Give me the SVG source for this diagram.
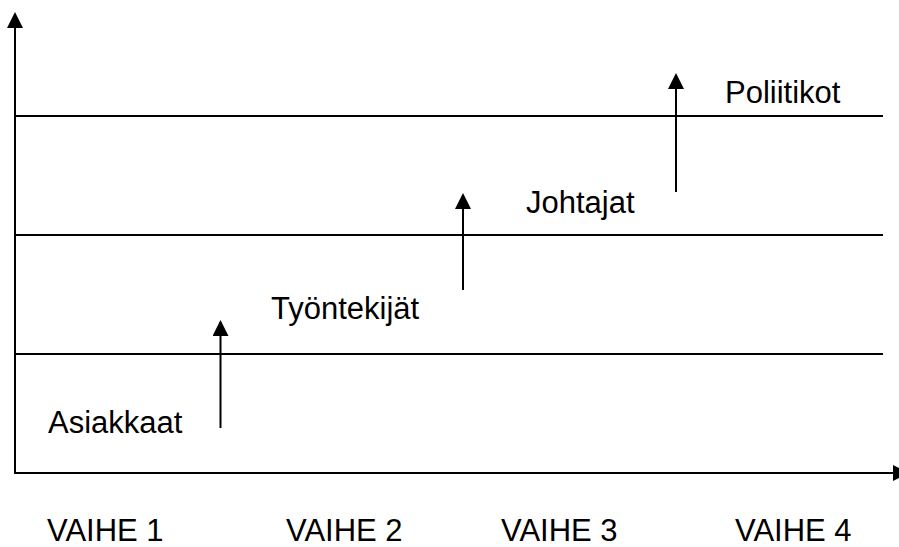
<svg xmlns="http://www.w3.org/2000/svg" width="899" height="547" viewBox="0 0 899 547">
<defs>
<marker id="ah" viewBox="0 0 16 16" markerWidth="16" markerHeight="16" markerUnits="userSpaceOnUse" refX="14" refY="8" orient="auto">
<path d="M0,0 L16,8 L0,16 z" fill="#000"/>
</marker>
</defs>
<style>
.ln{stroke:#000;stroke-width:2;fill:none}
.ar{stroke:#000;stroke-width:2;fill:none;marker-end:url(#ah)}
text{font-family:"Liberation Sans",Arial,sans-serif;font-size:31px;fill:#000}
</style>
<rect width="899" height="547" fill="#fff"/>
<g id="connectors">
<line class="ar" x1="15" y1="474" x2="15" y2="14"/>
<line class="ar" x1="14" y1="473" x2="907" y2="473"/>
<line class="ln" x1="15" y1="116" x2="883" y2="116"/>
<line class="ln" x1="15" y1="235" x2="883" y2="235"/>
<line class="ln" x1="15" y1="354" x2="883" y2="354"/>
<line class="ar" x1="220.5" y1="428" x2="220.5" y2="322"/>
<line class="ar" x1="463" y1="290" x2="463" y2="195"/>
<line class="ar" x1="676" y1="192" x2="676" y2="75"/>
</g>
<g id="asiakkaat"><text x="48" y="433">Asiakkaat</text></g>
<g id="tyontekijat"><text x="271" y="319">Työntekijät</text></g>
<g id="johtajat"><text x="526" y="213">Johtajat</text></g>
<g id="poliitikot"><text x="725" y="103">Poliitikot</text></g>
<g id="vaihe1"><text x="47" y="541">VAIHE 1</text></g>
<g id="vaihe2"><text x="286" y="541">VAIHE 2</text></g>
<g id="vaihe3"><text x="501" y="541">VAIHE 3</text></g>
<g id="vaihe4"><text x="735" y="541">VAIHE 4</text></g>
</svg>
